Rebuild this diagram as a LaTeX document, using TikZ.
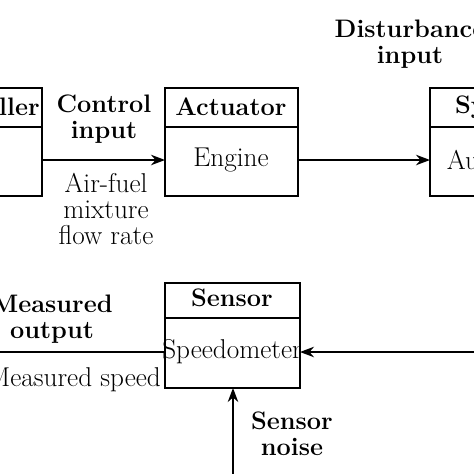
\documentclass[tikz,border=0pt]{standalone}
\usepackage{tikz}
\usetikzlibrary{arrows.meta, calc, positioning}
\begin{document}
\begin{tikzpicture}[x=0.02cm, y=-0.02cm, font=\fontsize{15.5}{18}\selectfont,
    blk/.style={draw, thick},
    lbl/.style={font=\Large\bfseries, align=center},
    arr/.style={thick, -{Stealth[length=8pt]}}]
    \useasboundingbox (0,0) rectangle (474,474);
    \clip (0,0) rectangle (474,474);
    % blocks
    \draw[blk] (-90,88) rectangle (42,196); \draw[blk] (-90,127) -- (42,127);
    \node[lbl] (ctrlT) at (-24,107) {Controller};
    \draw[blk] (165,88) rectangle (298,196); \draw[blk] (165,127) -- (298,127);
    \node[lbl] (actT) at (231,107) {Actuator};
    \node (eng) at (231,160) {Engine};
    \draw[blk] (430,88) rectangle (570,196); \draw[blk] (430,127) -- (570,127);
    \node[lbl] (sysT) at (500,107) {System};
    \node (auto) at (510,160) {Automobile};
    \draw[blk] (165,283) rectangle (300,388); \draw[blk] (165,318) -- (300,318);
    \node[lbl] (senT) at (232,298) {Sensor};
    \node (spd) at (232,352) {Speedometer};
    % coordinates
    \coordinate (ctrlR) at (42,160);
    \coordinate (actL) at (165,160);
    \coordinate (actR) at (298,160);
    \coordinate (sysL) at (430,160);
    \coordinate (fbIn) at (474,352);
    \coordinate (senR) at (300,352);
    \coordinate (senL) at (165,352);
    \coordinate (outL) at (0,352);
    \coordinate (noise) at (233,474);
    \coordinate (senB) at (233,388);
    % connectors
    \draw[arr] (ctrlR) -- (actL);
    \draw[arr] (actR) -- (sysL);
    \draw[arr] (fbIn) -- (senR);
    \draw[thick] (senL) -- (outL);
    \draw[arr] (noise) -- (senB);
    % labels
    \node[lbl] (ci) at (104,119) {Control\\[-3pt]input};
    \node[align=center] (af) at (106,209) {Air-fuel\\[-3pt]mixture\\[-3pt]flow rate};
    \node[lbl] (di) at (410,44) {Disturbance\\[-3pt]input};
    \node[lbl] (mo) at (52,319) {Measured\\[-3pt]output};
    \node (ms) at (74,380) {Measured speed};
    \node[lbl] (sn) at (292,434) {Sensor\\[-3pt]noise};
\end{tikzpicture}
\end{document}
